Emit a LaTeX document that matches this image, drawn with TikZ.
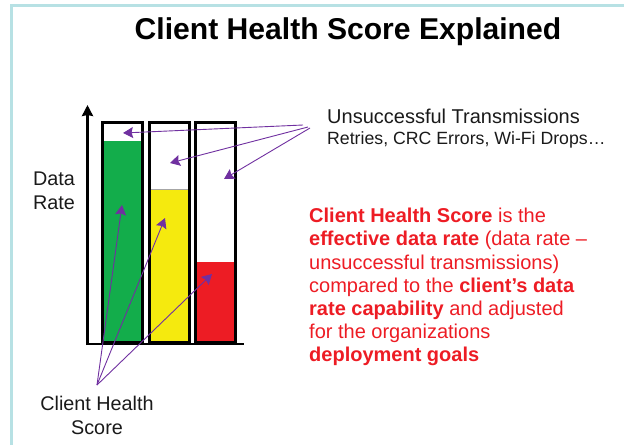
\documentclass[tikz,border=0pt]{standalone}
\usepackage{fontspec}
\setmainfont{Liberation Sans}
\usetikzlibrary{arrows.meta, positioning}
\definecolor{frameteal}{RGB}{183,225,228}
\definecolor{barpurple}{RGB}{112,48,160}
\definecolor{bargreen}{RGB}{19,173,75}
\definecolor{baryellow}{RGB}{245,234,14}
\definecolor{barred}{RGB}{237,28,36}
\definecolor{textred}{RGB}{237,28,36}
\definecolor{inkblack}{RGB}{26,26,26}

\begin{document}
\begin{tikzpicture}[
        x=1pt, y=-1pt,
        label/.style={inner sep=0pt, text=inkblack, align=center, font=\fontsize{19.8}{24}\selectfont},
        barfill/.style={inner sep=0pt, minimum width=38.5pt, anchor=south},
        barframe/.style={draw=black, line width=2.8pt, inner sep=0pt, minimum width=40.5pt, minimum height=220pt, anchor=south},
        callout/.style={-{Stealth[length=10pt,width=11pt,inset=1.5pt]}, barpurple, line width=0.9pt}
    ]
        \useasboundingbox (0,0) rectangle (624,445);
        % frame
        \draw[frameteal, line width=2.6pt] (11.5,445) -- (11.5,5.5) -- (624,5.5);

        \node[inner sep=0pt, font=\bfseries\fontsize{30.1}{34}\selectfont, text=black] (title) at (348,32) {Client Health Score Explained};

        % bars
        \node[barfill, fill=bargreen, minimum height=203pt] (greenfill) at (122.5,344) {};
        \node[barfill, fill=baryellow, minimum height=154pt] (yellowfill) at (169.5,344) {};
        \node[barfill, fill=barred, minimum height=82pt] (redfill) at (215.5,344) {};
        \draw[black!35, line width=1pt] (yellowfill.north west) -- (yellowfill.north east);
        \node[barframe] (greenbar) at (122.5,344) {};
        \node[barframe] (yellowbar) at (169.5,344) {};
        \node[barframe] (redbar) at (215.5,344) {};

        % axes
        \coordinate (origin) at (87.5,345);
        \coordinate (axistop) at (87.5,105);
        \coordinate (axisright) at (243.5,344);
        \draw[-{Stealth[length=11pt,width=11pt,inset=1pt]}, line width=2.5pt] (origin) -- (axistop);
        \draw[line width=1.4pt] (origin |- axisright) -- (axisright);

        \node[label] (datarate) at (54,191) {Data\\Rate};
        \node[label] (clienthealth) at (97,415) {Client Health\\Score};
        \node[label, font=\fontsize{20}{22}\selectfont, anchor=west] (unsuccessful) at (327,116) {Unsuccessful Transmissions};
        \node[label, font=\fontsize{17.7}{20}\selectfont, anchor=west] (retries) at (327,140) {Retries, CRC Errors, Wi-Fi Drops\dots};

        \node[inner sep=0pt, anchor=north west, align=left, text=textred, font=\fontsize{20}{23.2}\selectfont] (explain) at (309,208) {%
            \textbf{Client Health Score} is the\\
            \textbf{effective data rate} (data rate --\\
            unsuccessful transmissions)\\
            compared to the \textbf{client’s data}\\
            \textbf{rate capability} and adjusted\\
            for the organizations\\
            \textbf{deployment goals}};

        % callouts
        \coordinate (topsrca) at (303,125);
        \coordinate (topsrcb) at (308,127);
        \coordinate (topsrcc) at (310,128);
        \coordinate (lowsrc) at (97,385);
        \coordinate (greengap) at (123,133);
        \coordinate (yellowgap) at (170,163);
        \coordinate (redgap) at (224,179);
        \coordinate (greenpt) at (122,205);
        \coordinate (yellowpt) at (165,218);
        \coordinate (redpt) at (212,274);
        \draw[callout] (topsrca) -- (greengap);
        \draw[callout] (topsrcb) -- (yellowgap);
        \draw[callout] (topsrcc) -- (redgap);
        \draw[callout] (lowsrc) -- (greenpt);
        \draw[callout] (lowsrc) -- (yellowpt);
        \draw[callout] (lowsrc) -- (redpt);
    \end{tikzpicture}
\end{document}
